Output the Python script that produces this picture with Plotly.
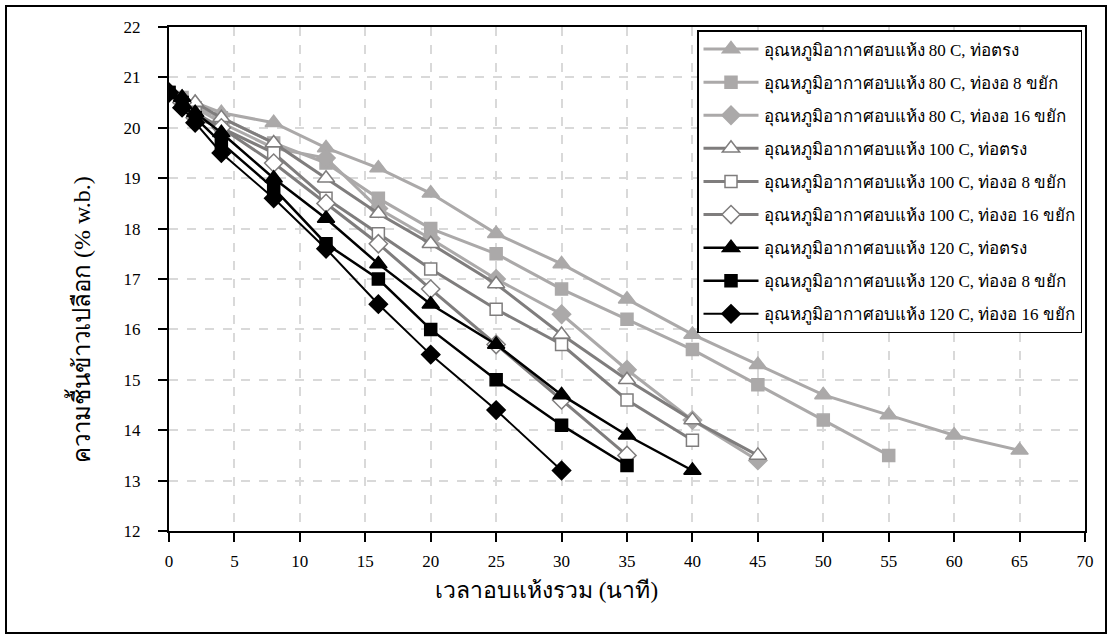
import plotly.graph_objects as go

# ---- data ----
time_min = [0, 1, 2, 4, 8, 12, 16, 20, 25, 30, 35, 40, 45, 50, 55, 60, 65]

names = [
    "อุณหภูมิอากาศอบแห้ง 80 C, ท่อตรง",
    "อุณหภูมิอากาศอบแห้ง 80 C, ท่องอ 8 ขยัก",
    "อุณหภูมิอากาศอบแห้ง 80 C, ท่องอ 16 ขยัก",
    "อุณหภูมิอากาศอบแห้ง 100 C, ท่อตรง",
    "อุณหภูมิอากาศอบแห้ง 100 C, ท่องอ 8 ขยัก",
    "อุณหภูมิอากาศอบแห้ง 100 C, ท่องอ 16 ขยัก",
    "อุณหภูมิอากาศอบแห้ง 120 C, ท่อตรง",
    "อุณหภูมิอากาศอบแห้ง 120 C, ท่องอ 8 ขยัก",
    "อุณหภูมิอากาศอบแห้ง 120 C, ท่องอ 16 ขยัก",
]

m80_straight = [20.7, 20.6, 20.5, 20.3, 20.1, 19.6, 19.2, 18.7, 17.9, 17.3, 16.6, 15.9, 15.3, 14.7, 14.3, 13.9, 13.6]
m80_bend8 = [20.7, 20.6, 20.4, 20.2, 19.7, 19.3, 18.6, 18.0, 17.5, 16.8, 16.2, 15.6, 14.9, 14.2, 13.5]
m80_bend16 = [20.7, 20.5, 20.4, 20.1, 19.6, 19.4, 18.4, 17.8, 17.0, 16.3, 15.2, 14.2, 13.4]
m100_straight = [20.7, 20.6, 20.5, 20.2, 19.7, 19.0, 18.3, 17.7, 16.9, 15.9, 15.0, 14.2, 13.5]
m100_bend8 = [20.7, 20.5, 20.3, 20.0, 19.5, 18.6, 17.9, 17.2, 16.4, 15.7, 14.6, 13.8]
m100_bend16 = [20.7, 20.5, 20.2, 20.0, 19.3, 18.5, 17.7, 16.8, 15.7, 14.6, 13.5]
m120_straight = [20.7, 20.6, 20.3, 19.9, 19.0, 18.2, 17.3, 16.5, 15.7, 14.7, 13.9, 13.2]
m120_bend8 = [20.7, 20.5, 20.2, 19.7, 18.8, 17.7, 17.0, 16.0, 15.0, 14.1, 13.3]
m120_bend16 = [20.7, 20.4, 20.1, 19.5, 18.6, 17.6, 16.5, 15.5, 14.4, 13.2]

series = [m80_straight, m80_bend8, m80_bend16,
          m100_straight, m100_bend8, m100_bend16,
          m120_straight, m120_bend8, m120_bend16]

x_ticks = list(range(0, 75, 5))
y_ticks = list(range(12, 23, 1))

# ---- styles ----
LIGHT = "#ABA9A9"
MID = "#7F7D7D"
BLACK = "#000000"
SERIF = "Liberation Serif, Times New Roman, serif"

styles = [
    dict(lc=LIGHT, sym="triangle-up", fill=LIGHT, ol=LIGHT, sz=15, lw=3),
    dict(lc=LIGHT, sym="square", fill=LIGHT, ol=LIGHT, sz=12, lw=3),
    dict(lc=LIGHT, sym="diamond", fill=LIGHT, ol=LIGHT, sz=14, lw=3),
    dict(lc=MID, sym="triangle-up", fill="white", ol=MID, sz=15, lw=3),
    dict(lc=MID, sym="square", fill="white", ol=MID, sz=12, lw=3),
    dict(lc=MID, sym="diamond", fill="white", ol=MID, sz=14, lw=3),
    dict(lc=BLACK, sym="triangle-up", fill=BLACK, ol=BLACK, sz=15, lw=2.5),
    dict(lc=BLACK, sym="square", fill=BLACK, ol=BLACK, sz=12, lw=2.5),
    dict(lc=BLACK, sym="diamond", fill=BLACK, ol=BLACK, sz=14, lw=2),
]

fig = go.Figure()
for i, (name, ys, st) in enumerate(zip(names, series, styles)):
    fig.add_trace(go.Scatter(
        x=time_min[:len(ys)], y=ys, name=name, mode="lines+markers",
        legendgroup=f"g{i}",
        line=dict(color=st["lc"], width=st["lw"]),
        marker=dict(symbol=st["sym"], size=st["sz"], color=st["fill"],
                    line=dict(color=st["ol"], width=1.5)),
    ))

W, H = 1112, 639
L, R, T, B = 169, 27, 27, 108

fig.update_layout(
    width=W, height=H,
    margin=dict(l=L, r=R, t=T, b=B),
    paper_bgcolor="white", plot_bgcolor="white",
    font=dict(family=SERIF, size=17, color="black"),
    showlegend=True,
    legend=dict(
        x=(697 - L) / (W - L - R), y=(H - B - 30) / (H - B - T),
        xanchor="left", yanchor="top",
        bgcolor="white", bordercolor="black", borderwidth=1.5,
        font=dict(family=SERIF, size=17),
        tracegroupgap=8, itemwidth=55,
    ),
    xaxis=dict(
        range=[0, 70], tickvals=x_ticks, ticktext=[str(v) for v in x_ticks],
        showline=True, linecolor="black", linewidth=2, mirror=True,
        ticks="outside", ticklen=9, tickwidth=2, tickcolor="black",
        showgrid=True, gridcolor="#D9D9D9", griddash="dash", gridwidth=1.5,
        zeroline=False, ticklabelstandoff=5,
        tickfont=dict(family=SERIF, size=17),
    ),
    yaxis=dict(
        range=[12, 22], tickvals=y_ticks, ticktext=[str(v) for v in y_ticks],
        showline=True, linecolor="black", linewidth=2, mirror=True,
        ticks="outside", ticklen=9, tickwidth=2, tickcolor="black",
        showgrid=True, gridcolor="#D9D9D9", griddash="dash", gridwidth=1.5,
        zeroline=False, ticklabelstandoff=14,
        tickfont=dict(family=SERIF, size=17),
    ),
)

# axis titles as annotations (positioned like the original)
fig.add_annotation(
    text="เวลาอบแห้งรวม (นาที)", xref="paper", yref="paper",
    x=(546 - L) / (W - L - R), y=-(590 - (H - B)) / (H - B - T),
    xanchor="center", yanchor="middle", showarrow=False,
    font=dict(family=SERIF, size=23),
)
fig.add_annotation(
    text="ความชื้นข้าวเปลือก (% w.b.)", xref="paper", yref="paper",
    x=-(L - 80) / (W - L - R), y=(H - B - 320) / (H - B - T),
    xanchor="center", yanchor="middle", showarrow=False, textangle=-90,
    font=dict(family=SERIF, size=24),
)

# outer frame
fig.add_shape(type="rect", xref="paper", yref="paper",
              x0=-(L - 6) / (W - L - R), x1=1 + (R - 6) / (W - L - R),
              y0=-(B - 6) / (H - B - T), y1=1 + (T - 6) / (H - B - T),
              line=dict(color="black", width=2), layer="below")

fig.write_html("out.html")
